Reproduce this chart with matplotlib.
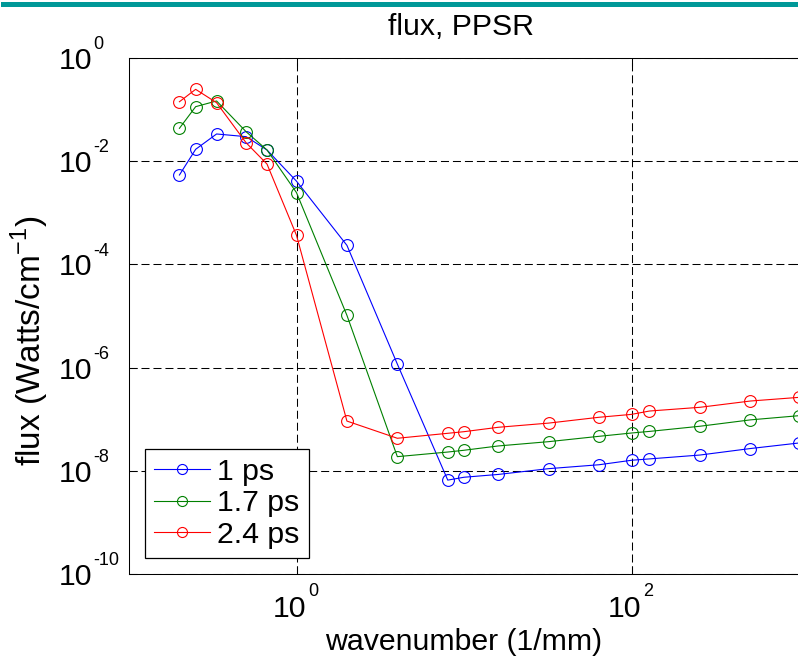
import numpy as np
import matplotlib
matplotlib.use('Agg')
import matplotlib.pyplot as plt
from matplotlib.ticker import FixedLocator, NullLocator

plt.rcParams['font.family'] = ['Liberation Sans', 'DejaVu Sans']
plt.rcParams['mathtext.fontset'] = 'custom'
plt.rcParams['mathtext.rm'] = 'Liberation Sans'

# wavenumber (1/mm), shared by all three curves
wavenumber = [0.2, 0.25, 1/3, 0.5, 2/3, 1, 2, 4, 8, 10, 16, 32, 64, 100, 128, 256, 512, 1000]

flux_1ps = [0.0054, 0.017, 0.0337, 0.0299, 0.0165, 0.0041, 2.34e-4, 1.17e-6,
            6.6e-9, 7.5e-9, 8.5e-9, 1.1e-8, 1.31e-8, 1.6e-8, 1.7e-8, 2.02e-8, 2.7e-8, 3.46e-8]
flux_17ps = [0.0434, 0.114, 0.147, 0.0373, 0.0165, 0.00246, 1.03e-5, 1.88e-8,
             2.31e-8, 2.5e-8, 3.03e-8, 3.67e-8, 4.66e-8, 5.4e-8, 5.8e-8, 7.3e-8, 9.7e-8, 1.17e-7]
flux_24ps = [0.142, 0.247, 0.136, 0.0228, 0.0088, 3.66e-4, 9.2e-8, 4.27e-8,
             5.33e-8, 5.73e-8, 6.97e-8, 8.4e-8, 1.09e-7, 1.24e-7, 1.44e-7, 1.7e-7, 2.25e-7, 2.65e-7]

labels = ['1 ps', '1.7 ps', '2.4 ps']
colors = ['#0000ff', '#008000', '#ff0000']

xticks = [1, 100]
xtick_exp = ['0', '2']
yticks = [1e-10, 1e-8, 1e-6, 1e-4, 1e-2, 1]
ytick_exp = ['-10', '-8', '-6', '-4', '-2', '0']

FS = 21.8
SUP = 13

fig = plt.figure(figsize=(7.98, 6.6), dpi=100)
ax = fig.add_axes([129/798, 86/660, 670/798, 516/660])

for y, lab, c in zip([flux_1ps, flux_17ps, flux_24ps], labels, colors):
    ax.plot(wavenumber, y, '-o', color=c, lw=0.8, markersize=8.5,
            markerfacecolor='none', markeredgewidth=0.8, label=lab)

ax.set_xscale('log')
ax.set_yscale('log')
ax.set_xlim(0.1, 1000)
ax.set_ylim(1e-10, 1)

ax.xaxis.set_major_locator(FixedLocator(xticks))
ax.yaxis.set_major_locator(FixedLocator(yticks))
ax.xaxis.set_minor_locator(NullLocator())
ax.yaxis.set_minor_locator(NullLocator())
ax.tick_params(direction='in', length=5.5, width=0.75, top=True, right=True,
               labelbottom=False, labelleft=False)

# MATLAB style tick labels: "10" with a small raised exponent
for t, e in zip(xticks, xtick_exp):
    ax.annotate('10', xy=(t, 0), xycoords=ax.get_xaxis_transform(), xytext=(7.2, -31),
                textcoords='offset points', ha='right', va='baseline', fontsize=FS)
    ax.annotate(e, xy=(t, 0), xycoords=ax.get_xaxis_transform(), xytext=(8.4, -15.8),
                textcoords='offset points', ha='left', va='baseline', fontsize=SUP)
for t, e in zip(yticks, ytick_exp):
    ax.annotate('10', xy=(0, t), xycoords=ax.get_yaxis_transform(), xytext=(-26.6, -7.9),
                textcoords='offset points', ha='right', va='baseline', fontsize=FS)
    ax.annotate(e, xy=(0, t), xycoords=ax.get_yaxis_transform(), xytext=(-25.4, 6.4),
                textcoords='offset points', ha='left', va='baseline', fontsize=SUP)

ax.grid(True, color='black', lw=0.75, linestyle=(0, (7.7, 3.8)))
for s in ax.spines.values():
    s.set_linewidth(0.75)
ax.spines['right'].set_visible(False)

ax.set_xlabel('wavenumber (1/mm)', fontsize=FS)
ax.xaxis.label.set_va('center')
ax.xaxis.set_label_coords(0.5, -0.1318)
ax.set_ylabel(r'flux (Watts/cm$^{\mathregular{-1}}$)', fontsize=24)
ax.yaxis.label.set_va('center')
ax.yaxis.set_label_coords(-0.1478, 0.452)

fig.text(461/798, 1 - 35/660, 'flux, PPSR', fontsize=FS, ha='center', va='baseline')

leg = ax.legend(loc='lower left', bbox_to_anchor=(16/670, 16/516), borderaxespad=0,
                fontsize=FS, fancybox=False, framealpha=1, edgecolor='black',
                handlelength=1.85, handletextpad=0.23, borderpad=0.3, labelspacing=0.12,
                markerscale=0.85)
leg.get_frame().set_linewidth(0.9)

fig.add_artist(plt.Line2D([3/798, 1], [1 - 4.2/660, 1 - 4.2/660], color='#009898', lw=3.6))

fig.savefig('out.png', dpi=100)
